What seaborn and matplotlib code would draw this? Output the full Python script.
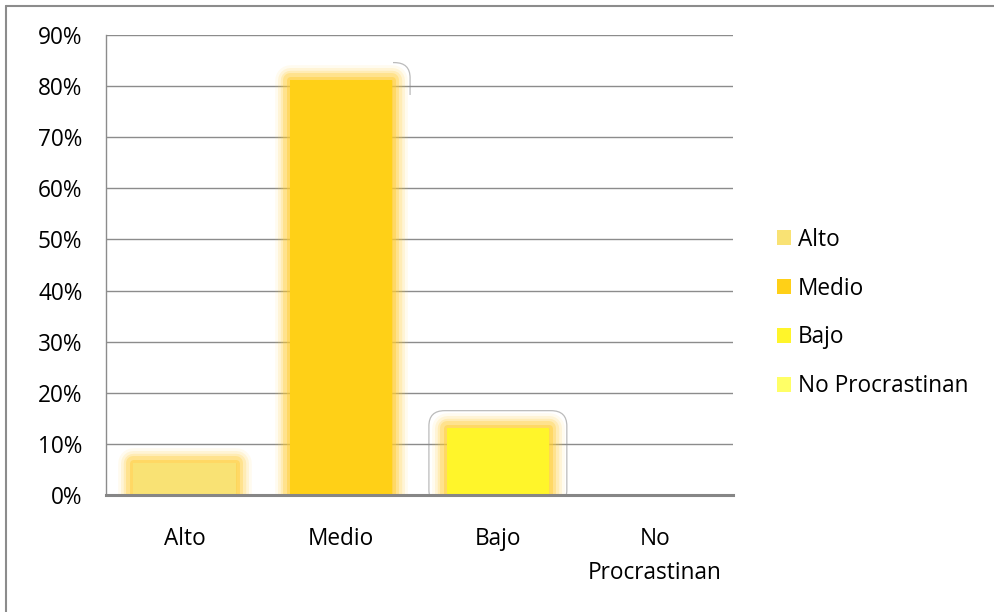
import matplotlib
matplotlib.use("Agg")
import matplotlib.pyplot as plt
import matplotlib.patheffects as pe
from matplotlib.patches import Patch, FancyBboxPatch, Rectangle
from matplotlib.lines import Line2D
from matplotlib.ticker import PercentFormatter, MultipleLocator
import seaborn as sns
import pandas as pd

categories = ["Alto", "Medio", "Bajo", "No Procrastinan"]
tick_labels = ["Alto", "Medio", "Bajo", "No\nProcrastinan"]
values = [6.3, 81.2, 13.1, 0.0]
colors = ["#F9E274", "#FFD017", "#FFF52A", "#FFFF66"]

sns.set_style("white")
plt.rcParams["font.family"] = ["Open Sans", "DejaVu Sans"]
plt.rcParams["text.color"] = "#000000"

FS = 16.3

fig = plt.figure(figsize=(9.94, 6.12), dpi=100)
ax = fig.add_axes([106 / 994, 117 / 612, 627 / 994, 460 / 612])

df = pd.DataFrame({"cat": categories, "val": values})
sns.barplot(data=df, x="cat", y="val", hue="cat", palette=colors,
            legend=False, width=0.655, ax=ax, saturation=1)

glow = "#FFCC33"
for p, v in zip(ax.patches, values):
    p.set_edgecolor("none")
    if v > 0:
        effects = []
        for w, a in [(22, 0.08), (18, 0.13), (14, 0.20), (10, 0.30), (5, 0.45)]:
            effects.append(pe.Stroke(linewidth=w, foreground=glow, alpha=a,
                                     joinstyle="round"))
        effects.append(pe.Normal())
        p.set_path_effects(effects)

# decorative rounded outlines around Medio and Bajo bars
for idx in (1, 2):
    p = ax.patches[idx]
    cx = p.get_x() + p.get_width() / 2
    top = values[idx] + 3.4
    box = FancyBboxPatch((cx - 0.44, -2), 0.88, top + 2,
                         boxstyle="round,pad=0,rounding_size=0.1",
                         mutation_aspect=30,
                         fill=False, edgecolor="#BBBBBB", linewidth=0.9,
                         zorder=0.5)
    ax.add_patch(box)
    if idx == 1:
        clip = Rectangle((cx + 0.33, values[idx] - 3), 0.2, 7,
                         transform=ax.transData)
        box.set_clip_path(clip)

ax.set_ylim(0, 90)
ax.yaxis.set_major_locator(MultipleLocator(10))
ax.yaxis.set_major_formatter(PercentFormatter(decimals=0))
ax.grid(axis="y", color="#8C8C8C", linewidth=1.0)
ax.set_axisbelow(True)
ax.set_xlabel("")
ax.set_ylabel("")
ax.set_xticks(range(len(categories)))
ax.set_xticklabels(tick_labels)
ax.tick_params(axis="both", length=0, labelsize=FS, labelcolor="#000000")
ax.tick_params(axis="x", pad=23)
ax.tick_params(axis="y", pad=17)
for lbl in ax.get_xticklabels():
    lbl.set_linespacing(1.55)

for s in ("top", "right"):
    ax.spines[s].set_visible(False)
ax.spines["left"].set_color("#8C8C8C")
ax.spines["left"].set_linewidth(1.0)
ax.spines["bottom"].set_color("#868686")
ax.spines["bottom"].set_linewidth(2.2)

handles = [Patch(facecolor=c, edgecolor="none", label=l)
           for c, l in zip(colors, categories)]
leg = fig.legend(handles=handles, loc="center left",
                 bbox_to_anchor=(757 / 994, 1 - 313 / 612), frameon=False,
                 fontsize=FS, handlelength=0.62, handleheight=0.62,
                 handletextpad=0.3, labelspacing=1.1)
for t in leg.get_texts():
    t.set_color("#000000")

# outer chart border (top and left only visible)
fig.add_artist(Line2D([6 / 994, 6 / 994], [0, 1 - 6 / 612],
                      transform=fig.transFigure, color="#8C8C8C", linewidth=1.5))
fig.add_artist(Line2D([6 / 994, 1], [1 - 6 / 612, 1 - 6 / 612],
                      transform=fig.transFigure, color="#8C8C8C", linewidth=1.5))

fig.savefig("out.png", dpi=100)
